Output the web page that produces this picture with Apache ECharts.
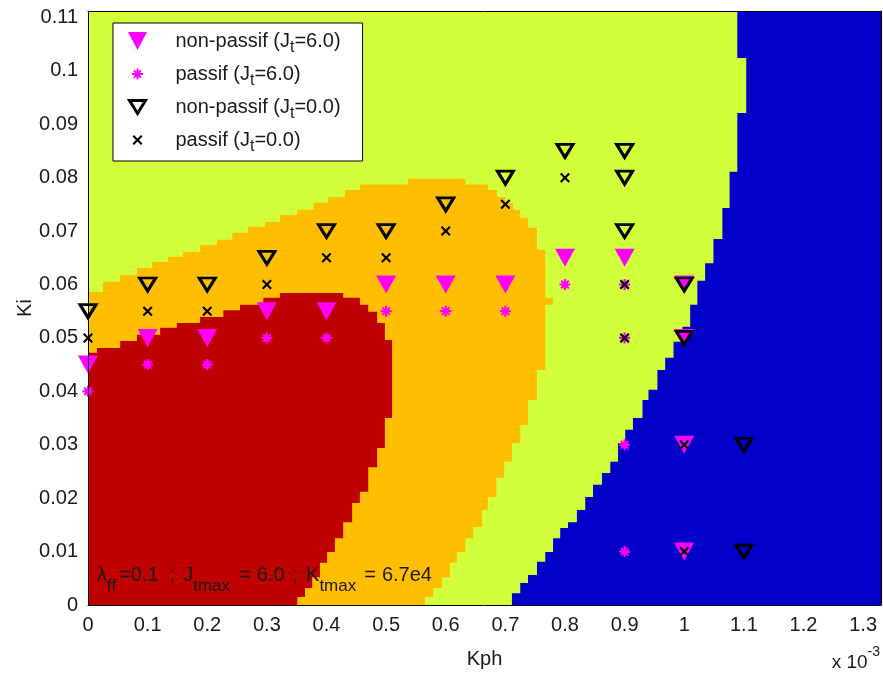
<!DOCTYPE html>
<html><head><meta charset="utf-8">
<script src="https://cdn.jsdelivr.net/npm/echarts@6/dist/echarts.min.js"></script>
<style>html,body{margin:0;padding:0;background:#fff}#c{width:883px;height:677px}</style>
</head><body><div id="c"></div>
<script>
// ---- axes (Kph expressed in units of 1e-3) ----
const xRange = [0, 1.33];
const yRange = [0, 0.1112];
const xStep = 0.1;
const yStep = 0.01;

// ---- measured points ----
const nonPassif6 = [[0,0.045],[0.1,0.05],[0.2,0.05],[0.3,0.055],[0.4,0.055],[0.5,0.06],[0.6,0.06],[0.7,0.06],[0.8,0.065],[0.9,0.065],[1.0,0.06],[1.0,0.05],[1.0,0.03],[1.0,0.01]];
const passif6 = [[0,0.04],[0.1,0.045],[0.2,0.045],[0.3,0.05],[0.4,0.05],[0.5,0.055],[0.6,0.055],[0.7,0.055],[0.8,0.06],[0.9,0.06],[0.9,0.05],[0.9,0.03],[0.9,0.01]];
const nonPassif0 = [[0,0.055],[0.1,0.06],[0.2,0.06],[0.3,0.065],[0.4,0.07],[0.5,0.07],[0.6,0.075],[0.7,0.08],[0.8,0.085],[0.9,0.085],[0.9,0.08],[0.9,0.07],[1.0,0.06],[1.0,0.05],[1.1,0.03],[1.1,0.01]];
const passif0 = [[0,0.05],[0.1,0.055],[0.2,0.055],[0.3,0.06],[0.4,0.065],[0.5,0.065],[0.6,0.07],[0.7,0.075],[0.8,0.08],[0.9,0.06],[0.9,0.05],[1.0,0.03],[1.0,0.01]];

// ---- region boundaries (staircases) ----
// top staircase: [xStart, yLevel]; right staircase: [xEdge, yBottom]
const orangeTop = [[0,0.0586],[0.025,0.0605],[0.054,0.0618],[0.082,0.0631],[0.107,0.0642],[0.134,0.0652],[0.159,0.0661],[0.188,0.0674],[0.216,0.0684],[0.242,0.0697],[0.268,0.0708],[0.297,0.0717],[0.322,0.0730],[0.351,0.0740],[0.378,0.0753],[0.403,0.0764],[0.431,0.0777],[0.456,0.0787],[0.537,0.0798],[0.633,0.0787]];
const orangeRight = [[0.671,0.0777],[0.686,0.0764],[0.700,0.0753],[0.713,0.0740],[0.725,0.0725],[0.738,0.0706],[0.753,0.0665],[0.767,0.0575],[0.780,0.0562],[0.767,0.0440],[0.753,0.0384],[0.738,0.0337],[0.725,0.0303],[0.711,0.0268],[0.698,0.0238],[0.685,0.0202],[0.671,0.0178],[0.661,0.0146],[0.646,0.0125],[0.633,0.0099],[0.619,0.0079],[0.607,0.0052],[0.594,0.0032],[0.579,0.0015],[0.565,0]];
const redTop = [[0,0.0472],[0.015,0.0481],[0.054,0.0494],[0.082,0.0506],[0.121,0.0519],[0.149,0.0528],[0.188,0.0539],[0.227,0.0552],[0.255,0.0562],[0.294,0.0575],[0.322,0.0584],[0.428,0.0575],[0.456,0.0562],[0.470,0.0549],[0.485,0.0528],[0.498,0.0496]];
const redRight = [[0.510,0.0350],[0.498,0.0294],[0.485,0.0258],[0.470,0.0212],[0.456,0.0191],[0.443,0.0155],[0.428,0.0125],[0.414,0.0099],[0.401,0.0079],[0.389,0.0052],[0.376,0.0032],[0.364,0.0015],[0.351,0]];
const blueEdge = [[1.089,0.1024],[1.104,0.0921],[1.089,0.0811],[1.076,0.0743],[1.064,0.0685],[1.049,0.0640],[1.035,0.0607],[1.022,0.0562],[1.010,0.0521],[0.997,0.0493],[0.982,0.0463],[0.968,0.0440],[0.955,0.0403],[0.940,0.0384],[0.930,0.0350],[0.914,0.0328],[0.901,0.0303],[0.889,0.0268],[0.876,0.0247],[0.862,0.0225],[0.847,0.0202],[0.834,0.0178],[0.820,0.0155],[0.805,0.0144],[0.792,0.0125],[0.780,0.0099],[0.767,0.0081],[0.753,0.0056],[0.738,0.0041],[0.725,0.0022],[0.711,0]];

// ---- text ----
const legendLabels = {
  np6: '{g| }{n|non-passif (J}{s|t}{n|=6.0)}',
  p6:  '{g| }{n|passif (J}{s|t}{n|=6.0)}',
  np0: '{g| }{n|non-passif (J}{s|t}{n|=0.0)}',
  p0:  '{g| }{n|passif (J}{s|t}{n|=0.0)}'
};
const noteText = '{n|λ}{f|ff}{n|=0.1}{w1| }{n|;}{w2| }{n|J}{s|tmax}{w3| }{n|=}{w4| }{n|6.0}{w5| }{n|;}{w6| }{n|K}{s|tmax}{w7| }{n|=}{w8| }{n|6.7e4}';
const scaleText = '{a|x 10}{b|-3}';
const xName = 'Kph';
const yName = 'Ki';

// ---- styles ----
const FONT = '"Liberation Sans", Arial, sans-serif';
const TXT = '#1a1a1a';
const C_YEL = '#D2FF3C', C_ORA = '#FFBE00', C_RED = '#BF0000', C_BLU = '#0000C8';
const MAG = '#FF00FF';

function leftRegion(top, right) {
  const pts = [[xRange[0], yRange[0]]];
  for (let i = 0; i < top.length; i++) {
    const xEnd = i + 1 < top.length ? top[i + 1][0] : right[0][0];
    pts.push([top[i][0], top[i][1]]);
    pts.push([xEnd, top[i][1]]);
  }
  let yPrev = top[top.length - 1][1];
  for (const [x, y] of right) { pts.push([x, yPrev]); pts.push([x, y]); yPrev = y; }
  return pts;
}
function rightRegion(edge) {
  const pts = [[xRange[1], yRange[1]]];
  let yPrev = yRange[1];
  for (const [x, y] of edge) { pts.push([x, yPrev]); pts.push([x, y]); yPrev = y; }
  pts.push([xRange[1], yRange[0]]);
  return pts;
}
const regions = [
  {pts: [[xRange[0],yRange[0]],[xRange[1],yRange[0]],[xRange[1],yRange[1]],[xRange[0],yRange[1]]], color: C_YEL},
  {pts: leftRegion(orangeTop, orangeRight), color: C_ORA},
  {pts: leftRegion(redTop, redRight), color: C_RED},
  {pts: rightRegion(blueEdge), color: C_BLU}
];
const regionSeries = regions.map((r, k) => ({
  type: 'custom', name: 'region' + k, silent: true, z: 1,
  data: r.pts,
  renderItem: (params, api) => {
    if (params.dataIndex !== 0) return;
    return {type: 'polygon', shape: {points: r.pts.map(p => api.coord(p))}, style: {fill: r.color}};
  }
}));

const triFill = 'path://M0,0 L20,0 L10,18 Z';
const triOpen = 'path://M0,0 L16,0 L8,13 Z';
const blob = 'path://M4,0 L6,0 L6,2.5 L8,1 L9,2 L7.5,4 L10,4 L10,6 L7.5,6 L9,8 L8,9 L6,7.5 L6,10 L4,10 L4,7.5 L2,9 L1,8 L2.5,6 L0,6 L0,4 L2.5,4 L1,2 L2,1 L4,2.5 Z';
const cross = 'path://M0,1.5 L1.5,0 L5,3.5 L8.5,0 L10,1.5 L6.5,5 L10,8.5 L8.5,10 L5,6.5 L1.5,10 L0,8.5 L3.5,5 Z';
// legend icons padded into a 26x26 box
const pad = 'M0,0 M26,26 ';
const lgTriFill = 'path://' + pad + 'M3.5,4 L22.5,4 L13,22 Z';
const lgBlob = 'path://' + pad + 'M12,7.5 L14,7.5 L14,10.5 L16.2,8.8 L17.2,9.8 L15.5,12 L18.5,12 L18.5,14 L15.5,14 L17.2,16.2 L16.2,17.2 L14,15.5 L14,18.5 L12,18.5 L12,15.5 L9.8,17.2 L8.8,16.2 L10.5,14 L7.5,14 L7.5,12 L10.5,12 L8.8,9.8 L9.8,8.8 L12,10.5 Z';
const lgTriOpen = 'path://' + pad + 'M5,6.5 L21,6.5 L13,19.5 Z';
const lgCross = 'path://' + pad + 'M8,9.5 L9.5,8 L13,11.5 L16.5,8 L18,9.5 L14.5,13 L18,16.5 L16.5,18 L13,14.5 L9.5,18 L8,16.5 L11.5,13 Z';

const chart = echarts.init(document.getElementById('c'), null, {renderer: 'canvas'});
const axisCommon = {type: 'value', z: 10, splitLine: {show: false}, axisTick: {show: false},
  axisLine: {show: true, onZero: false, lineStyle: {color: '#000', width: 1}}};
const nStyle = {fontFamily: FONT, fontSize: 20, color: TXT, lineHeight: 22, verticalAlign: 'top'};
const sStyle = {fontFamily: FONT, fontSize: 17, color: TXT, lineHeight: 18, padding: [13, 0, 0, 0], verticalAlign: 'top'};
function sp(w) { return {fontFamily: FONT, fontSize: 20, lineHeight: 22, width: w, verticalAlign: 'top'}; }
chart.setOption({
  animation: false,
  backgroundColor: '#fff',
  grid: {left: 88, right: 2, top: 11, bottom: 72, containLabel: false},
  title: [
    {left: 97, top: 565, padding: 0, z: 20, text: noteText,
     textStyle: {fontWeight: 'normal', rich: {
       n: nStyle, s: sStyle,
       f: Object.assign({}, sStyle, {padding: [13, 3, 0, 0]}),
       w1: sp(11), w2: sp(8), w3: sp(9), w4: sp(6), w5: sp(8), w6: sp(8), w7: sp(8), w8: sp(6)}}},
    {right: 3, top: 645, padding: 0, z: 20, text: scaleText,
     textStyle: {fontWeight: 'normal', rich: {
       a: {fontFamily: FONT, fontSize: 19, color: TXT, lineHeight: 20, padding: [8, 0, 0, 0], verticalAlign: 'top'},
       b: {fontFamily: FONT, fontSize: 14, color: TXT, lineHeight: 14, verticalAlign: 'top'}}}}
  ],
  legend: {
    orient: 'vertical', left: 113, top: 23, z: 20,
    padding: [3, 22, 6, 10], itemGap: 3, itemWidth: 40, itemHeight: 26,
    backgroundColor: '#fff', borderColor: '#000', borderWidth: 1, borderRadius: 0,
    selectedMode: false,
    data: [
      {name: 'np6', icon: lgTriFill, itemStyle: {color: MAG, borderWidth: 0}},
      {name: 'p6', icon: lgBlob, itemStyle: {color: MAG, borderWidth: 0}},
      {name: 'np0', icon: lgTriOpen, itemStyle: {color: 'rgba(0,0,0,0)', borderColor: '#000', borderWidth: 3}},
      {name: 'p0', icon: lgCross, itemStyle: {color: '#000', borderWidth: 0}}
    ],
    formatter: name => legendLabels[name],
    textStyle: {color: TXT, fontFamily: FONT, lineHeight: 26, rich: {
      g: {width: 13, fontSize: 18, lineHeight: 26, verticalAlign: 'middle'},
      n: {fontFamily: FONT, fontSize: 20, color: TXT, lineHeight: 26, verticalAlign: 'middle'},
      s: {fontFamily: FONT, fontSize: 16, color: TXT, lineHeight: 12, padding: [14, 0, 0, 0], verticalAlign: 'middle'}}}
  },
  xAxis: [
    Object.assign({}, axisCommon, {min: xRange[0], max: xRange[1], interval: xStep, position: 'bottom',
      axisLabel: {showMaxLabel: false, color: TXT, fontSize: 20, fontFamily: FONT, margin: 10},
      name: xName, nameLocation: 'middle', nameGap: 44, nameMoveOverlap: false,
      nameTextStyle: {color: TXT, fontSize: 20, fontFamily: FONT}}),
    Object.assign({}, axisCommon, {min: xRange[0], max: xRange[1], position: 'top', axisLabel: {show: false}})
  ],
  yAxis: [
    Object.assign({}, axisCommon, {min: yRange[0], max: yRange[1], interval: yStep, position: 'left',
      axisLabel: {showMaxLabel: false, color: TXT, fontSize: 20, fontFamily: FONT, margin: 10},
      name: yName, nameLocation: 'middle', nameGap: 53, nameMoveOverlap: false,
      nameTextStyle: {color: TXT, fontSize: 20, fontFamily: FONT}}),
    Object.assign({}, axisCommon, {min: yRange[0], max: yRange[1], position: 'right', axisLabel: {show: false}})
  ],
  series: regionSeries.concat([
    {type: 'scatter', name: 'np6', data: nonPassif6, z: 3, symbol: triFill, symbolSize: [20, 18],
     itemStyle: {color: MAG, opacity: 1}},
    {type: 'scatter', name: 'p6', data: passif6, z: 4, symbol: blob, symbolSize: 11,
     itemStyle: {color: MAG, opacity: 1}},
    {type: 'scatter', name: 'np0', data: nonPassif0, z: 5, symbol: triOpen, symbolSize: [16, 13],
     itemStyle: {color: 'rgba(0,0,0,0)', borderColor: '#000', borderWidth: 3, opacity: 1}},
    {type: 'scatter', name: 'p0', data: passif0, z: 6, symbol: cross, symbolSize: 10,
     itemStyle: {color: '#000', opacity: 1}}
  ])
});
</script></body></html>
